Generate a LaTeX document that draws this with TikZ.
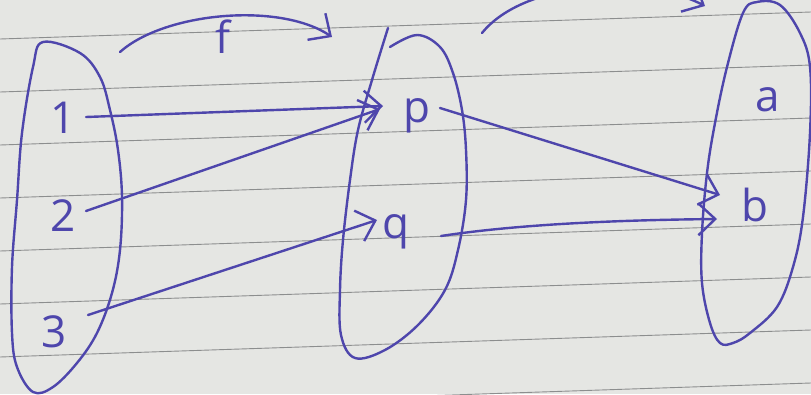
\documentclass[tikz,border=0pt]{standalone}
\usepackage{fontspec}
\setmainfont{Open Sans}
\usetikzlibrary{arrows.meta}
\definecolor{ink}{RGB}{78,70,172}
\definecolor{paper}{RGB}{229,230,227}
\definecolor{rule}{RGB}{140,142,142}
\tikzset{
  inkline/.style={draw=ink,line width=2.4pt,line cap=round,line join=round},
  arr/.style={inkline,-{Straight Barb[length=17pt,width=32pt,line width=2.4pt]}},
  lbl/.style={text=ink,font=\fontsize{44}{44}\selectfont,inner sep=0pt},
  ruling/.style={draw=rule,line width=0.9pt}
}
\begin{document}
\begin{tikzpicture}[x=1pt,y=-1pt]
\useasboundingbox (0,0) rectangle (811,394);
\fill[paper] (0,0) rectangle (811,394);
% ruled lines of the paper
\foreach \yy in {39,92,145,198,251,304,357,410}
  \draw[ruling] (0,\yy) -- (811,\yy-27);

% sets
\draw[inkline] plot[smooth cycle,tension=0.6] coordinates {
  (43,42) (80,53) (100,77) (110,110) (118,150) (122,197) (120,250) (112,293)
  (97,333) (77,363) (53,387) (33,392) (17,367) (12,333) (12,267) (17,200)
  (22,133) (33,67)};
\draw[inkline] plot[smooth,tension=0.6] coordinates {
  (390,47) (417,35) (440,47) (453,73) (462,110) (466,150) (466,200) (458,250)
  (445,290) (418,325) (385,350) (355,358) (341,335) (340,290) (343,240)
  (350,180) (358,130) (372,80) (388,28)};
\draw[inkline] plot[smooth cycle,tension=0.6] coordinates {
  (757,2) (780,5) (800,33) (810,67) (810,133) (803,217) (793,267) (777,307)
  (750,333) (733,343) (720,343) (710,323) (702,283) (702,233) (707,173)
  (715,123) (727,67) (743,13)};

% labels
\node[lbl] (n1) at (63,118) {1};
\node[lbl] (n2) at (63,216) {2};
\node[lbl] (n3) at (54,332) {3};
\node[lbl] (p) at (417,116) {p};
\node[lbl] (q) at (396,232) {q};
\node[lbl] (a) at (768,100) {a};
\node[lbl] (b) at (755,205) {b};
\node[lbl] (f) at (223,37) {f};

% connector ends
\coordinate (s1) at (86,117);
\coordinate (t1) at (383,106);
\coordinate (s2) at (86,211);
\coordinate (t2) at (380,109);
\coordinate (s3) at (88,315);
\coordinate (t3) at (377,220);
\coordinate (sp) at (440,108);
\coordinate (tb1) at (720,195);
\coordinate (sq) at (441,236);
\coordinate (tb2) at (717,219);
\coordinate (fa) at (120,52);
\coordinate (fb) at (332,37);
\coordinate (ga) at (482,33);
\coordinate (gb) at (705,6);

% mappings
\draw[arr] (s1) -- (t1);
\draw[arr] (s2) -- (t2);
\draw[arr] (s3) -- (t3);
\draw[arr] (sp) -- (tb1);
\draw[arr] (sq) .. controls (520,224) and (620,220) .. (tb2);
\draw[arr] (fa) .. controls (165,12) and (280,2) .. (fb);
\draw[arr] (ga) .. controls (525,-20) and (645,-25) .. (gb);
\end{tikzpicture}
\end{document}
